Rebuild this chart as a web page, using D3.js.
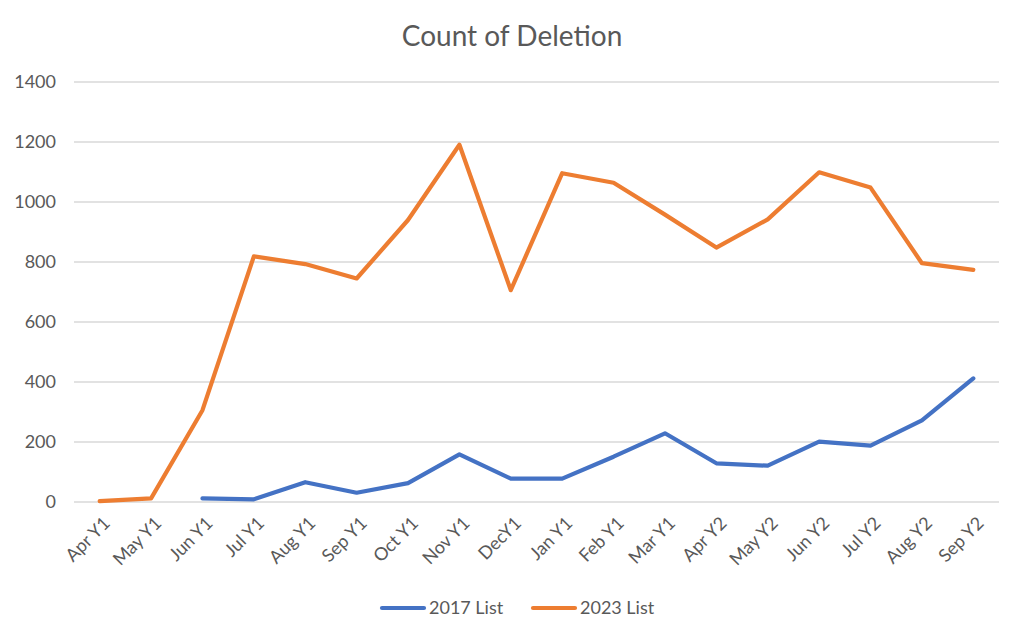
<!DOCTYPE html>
<html>
<head>
<meta charset="utf-8">
<script src="https://cdn.jsdelivr.net/npm/d3@7"></script>
<style>
  body { margin: 0; background: #fff; }
  svg { font-family: Lato, "Open Sans", sans-serif; }
</style>
</head>
<body>
<svg id="chart" width="1024" height="640"></svg>
<script>
// data
var months = ["Apr Y1", "May Y1", "Jun Y1", "Jul Y1", "Aug Y1", "Sep Y1", "Oct Y1", "Nov Y1", "DecY1",
  "Jan Y1", "Feb Y1", "Mar Y1", "Apr Y2", "May Y2", "Jun Y2", "Jul Y2", "Aug Y2", "Sep Y2"];
var list2017 = [null, null, 12, 9, 66, 31, 63, 159, 78, 78, 151, 229, 129, 121, 201, 188, 272, 412];
var list2023 = [3, 12, 306, 819, 793, 745, 940, 1191, 706, 1096, 1064, 958, 848, 942, 1099, 1048, 796, 774];
var yTicks = [0, 200, 400, 600, 800, 1000, 1200, 1400];
var seriesNames = ["2017 List", "2023 List"];
var colors = ["#4472C4", "#ED7D31"];

var svg = d3.select("#chart");
var plotLeft = 74, plotRight = 999, plotTop = 82, plotBottom = 502;

var x = d3.scaleBand().domain(months).range([plotLeft, plotRight]);
var y = d3.scaleLinear().domain([0, 1400]).range([plotBottom, plotTop]);

// title
svg.append("text")
  .attr("x", 512).attr("y", 46)
  .attr("text-anchor", "middle")
  .attr("fill", "#595959")
  .style("font-size", "28px")
  .text("Count of Deletion");

// gridlines
svg.append("g")
  .selectAll("line")
  .data(yTicks)
  .enter()
  .append("line")
  .attr("x1", plotLeft).attr("x2", plotRight)
  .attr("y1", function(d){ return y(d); })
  .attr("y2", function(d){ return y(d); })
  .attr("stroke", "#d9d9d9")
  .attr("stroke-width", 1.3);

// y axis labels
var yAxis = d3.axisLeft(y).tickValues(yTicks).tickFormat(d3.format("d")).tickSize(0).tickPadding(18);
var gy = svg.append("g").attr("transform", "translate(" + plotLeft + ",0)").call(yAxis);
gy.select(".domain").remove();
gy.selectAll("text").attr("fill", "#595959").style("font-size", "18px")
  .style("font-family", "Lato, 'Open Sans', sans-serif");

// x axis labels
var xAxis = d3.axisBottom(x).tickSize(0).tickPadding(0);
var gx = svg.append("g").attr("transform", "translate(0," + plotBottom + ")").call(xAxis);
gx.select(".domain").remove();
gx.selectAll("text")
  .attr("fill", "#595959")
  .style("font-size", "18px")
  .style("font-family", "Lato, 'Open Sans', sans-serif")
  .attr("text-anchor", "end")
  .attr("dy", "0.35em")
  .attr("y", 0)
  .attr("transform", "translate(7,18) rotate(-45)");

// lines
var line = d3.line()
  .defined(function(d){ return d != null; })
  .x(function(d, i){ return x(months[i]) + x.bandwidth() / 2; })
  .y(function(d){ return y(d); });

[list2017, list2023].forEach(function(s, k){
  svg.append("path")
    .datum(s)
    .attr("d", line)
    .attr("fill", "none")
    .attr("stroke", colors[k])
    .attr("stroke-width", 4.2)
    .attr("stroke-linejoin", "round")
    .attr("stroke-linecap", "round");
});

// legend
var legend = svg.append("g");
var legX = [382, 533];
seriesNames.forEach(function(n, k){
  legend.append("line")
    .attr("x1", legX[k]).attr("x2", legX[k] + 42)
    .attr("y1", 608).attr("y2", 608)
    .attr("stroke", colors[k])
    .attr("stroke-width", 4.2)
    .attr("stroke-linecap", "round");
  legend.append("text")
    .attr("x", legX[k] + 47).attr("y", 614)
    .attr("fill", "#595959")
    .style("font-size", "18px")
    .text(n);
});
</script>
</body>
</html>
